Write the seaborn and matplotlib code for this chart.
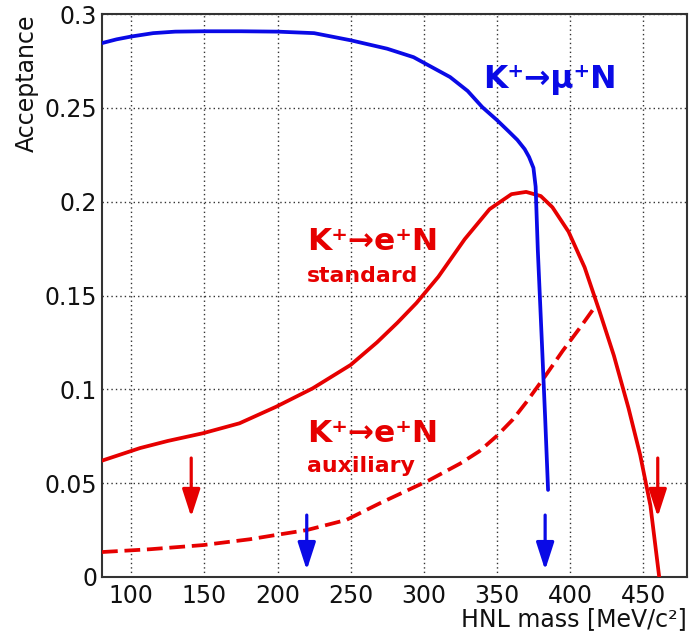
import matplotlib
matplotlib.use("Agg")
import matplotlib.pyplot as plt
import seaborn as sns
import pandas as pd

# HNL acceptance curves versus heavy neutral lepton mass
mu_mass = [80, 90, 100, 115, 130, 150, 175, 200, 225, 250, 275, 293, 318, 330, 340,
           350, 358, 364, 369, 372, 375, 376.5, 378, 381, 383, 385]
mu_acc = [0.2845, 0.2865, 0.2880, 0.2898, 0.2906, 0.2908, 0.2908, 0.2906, 0.2898,
          0.2860, 0.2815, 0.2770, 0.2664, 0.2590, 0.2504, 0.2435, 0.2375, 0.2329,
          0.2280, 0.2238, 0.2180, 0.2080, 0.1740, 0.1210, 0.0850, 0.0464]

e_std_mass = [80, 106, 125, 149, 174, 199, 224, 250, 268, 282, 295, 310, 328, 345,
              360, 370, 380, 388, 399, 410, 420, 430, 440, 448, 455, 461]
e_std_acc = [0.0620, 0.0687, 0.0725, 0.0766, 0.0819, 0.0907, 0.1005, 0.1130, 0.1250,
             0.1355, 0.1460, 0.1600, 0.1800, 0.1960, 0.2040, 0.2052, 0.2030, 0.1970,
             0.1840, 0.1650, 0.1420, 0.1180, 0.0900, 0.0650, 0.0380, 0.0000]

e_aux_mass = [80, 113, 149, 181, 199, 220, 247, 270, 304, 325, 338, 350, 361, 370,
              383, 395, 407, 418]
e_aux_acc = [0.0133, 0.0148, 0.0170, 0.0201, 0.0224, 0.0250, 0.0304, 0.0393, 0.0517,
             0.0605, 0.0670, 0.0752, 0.0840, 0.0930, 0.1070, 0.1205, 0.1330, 0.1450]

# arrow markers at the mass-window limits
blue_arrow_mass = [220, 383]
red_arrow_mass = [141, 460]
blue_arrow_span = (0.0330, 0.0037)
red_arrow_span = (0.0634, 0.0320)

x_ticks = [100, 150, 200, 250, 300, 350, 400, 450]
y_ticks = [0, 0.05, 0.1, 0.15, 0.2, 0.25, 0.3]
y_tick_labels = ["0", "0.05", "0.1", "0.15", "0.2", "0.25", "0.3"]

BLUE = "#0a0ae6"
RED = "#e60000"

sns.set_theme(style="white")
plt.rcParams["font.family"] = ["DejaVu Sans"]

fig = plt.figure(figsize=(6.89, 6.40), dpi=100)
ax = fig.add_axes([102 / 689, 63 / 640, 585 / 689, 563 / 640])

df_mu = pd.DataFrame({"mass": mu_mass, "acc": mu_acc})
df_std = pd.DataFrame({"mass": e_std_mass, "acc": e_std_acc})
df_aux = pd.DataFrame({"mass": e_aux_mass, "acc": e_aux_acc})

LW = 2.7
sns.lineplot(data=df_mu, x="mass", y="acc", ax=ax, color=BLUE, linewidth=LW,
             sort=False, zorder=4)
sns.lineplot(data=df_std, x="mass", y="acc", ax=ax, color=RED, linewidth=LW,
             sort=False, zorder=3)
sns.lineplot(data=df_aux, x="mass", y="acc", ax=ax, color=RED, linewidth=LW,
             sort=False, linestyle=(0, (4.2, 1.8)), zorder=3)

arrow_style = matplotlib.patches.ArrowStyle("-|>", head_length=1.05, head_width=0.34)
for xm in blue_arrow_mass:
    ax.annotate("", xy=(xm, blue_arrow_span[1]), xytext=(xm, blue_arrow_span[0]),
                arrowprops=dict(arrowstyle=arrow_style, color=BLUE, lw=2.3,
                                mutation_scale=16, shrinkA=0, shrinkB=0), zorder=5)
for xm in red_arrow_mass:
    ax.annotate("", xy=(xm, red_arrow_span[1]), xytext=(xm, red_arrow_span[0]),
                arrowprops=dict(arrowstyle=arrow_style, color=RED, lw=2.3,
                                mutation_scale=16, shrinkA=0, shrinkB=0), zorder=5)

ax.set_xlim(80, 480)
ax.set_ylim(0, 0.3)
ax.set_xticks(x_ticks)
ax.set_xticklabels([str(t) for t in x_ticks])
ax.set_yticks(y_ticks)
ax.set_yticklabels(y_tick_labels)
ax.xaxis.set_minor_locator(matplotlib.ticker.MultipleLocator(10))
ax.yaxis.set_minor_locator(matplotlib.ticker.MultipleLocator(0.01))

ax.tick_params(axis="both", which="major", direction="in", length=13, width=1.0,
               color="#222222", labelsize=17, labelcolor="#111111")
ax.tick_params(axis="both", which="minor", direction="in", length=7, width=1.0,
               color="#222222")
ax.tick_params(axis="x", which="major", pad=5)
ax.tick_params(axis="y", which="major", pad=3.5)
ax.tick_params(top=False, right=False, which="both")

ax.grid(True, which="major", linestyle=(0, (1, 2.2)), linewidth=1.0, color="#333333")
for s in ax.spines.values():
    s.set_linewidth(1.5)
    s.set_color("#333333")

ax.set_xlabel("HNL mass [MeV/c²]", fontsize=17, color="#111111", loc="right")
ax.set_ylabel("Acceptance", fontsize=17, color="#111111", loc="top")
ax.xaxis.set_label_coords(1.0, -0.054)
ax.yaxis.set_label_coords(-0.108, 1.0)

fam = ["DejaVu Sans"]
ax.text(340.4, 0.2606, "K⁺→μ⁺N", color=BLUE, fontsize=22.7, fontweight="bold",
        family=fam, ha="left", va="baseline", zorder=6)
ax.text(220.1, 0.1742, "K⁺→e⁺N", color=RED, fontsize=22.5, fontweight="bold",
        family=fam, ha="left", va="baseline", zorder=6)
ax.text(220.1, 0.1574, "standard", color=RED, fontsize=15.8, fontweight="bold",
        family=fam, ha="left", va="baseline", zorder=6)
ax.text(220.1, 0.0719, "K⁺→e⁺N", color=RED, fontsize=22.5, fontweight="bold",
        family=fam, ha="left", va="baseline", zorder=6)
ax.text(220.1, 0.0560, "auxiliary", color=RED, fontsize=15.8, fontweight="bold",
        family=fam, ha="left", va="baseline", zorder=6)

fig.savefig("out.png", dpi=100)
